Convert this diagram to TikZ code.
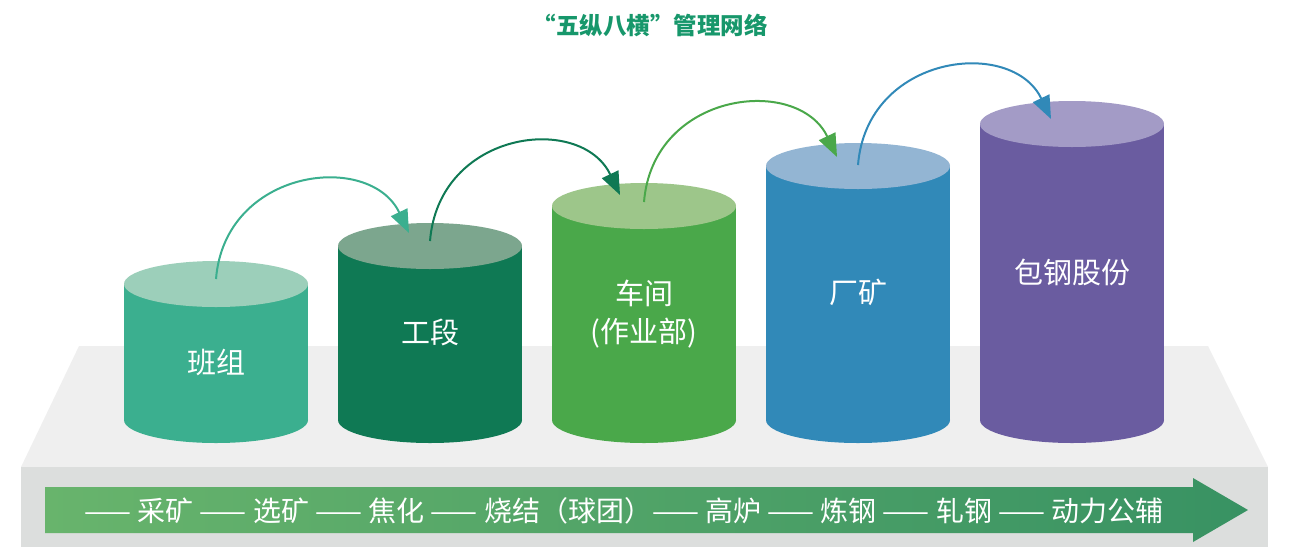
\documentclass[tikz,border=0pt]{standalone}
\usepackage{fontspec}
\setmainfont{Noto Sans CJK SC}
\usetikzlibrary{arrows.meta,calc,shapes.geometric}

\definecolor{titlegreen}{HTML}{17976B}
\definecolor{deckTop}{HTML}{EFEFEF}
\definecolor{deckFront}{HTML}{DCDEDD}
\definecolor{barLeft}{HTML}{68B46C}
\definecolor{barRight}{HTML}{389263}
\definecolor{bodyA}{HTML}{3BAF8F}\definecolor{capA}{HTML}{9CCFBA}
\definecolor{bodyB}{HTML}{0F7954}\definecolor{capB}{HTML}{7CA68E}
\definecolor{bodyC}{HTML}{4AA84A}\definecolor{capC}{HTML}{9DC68A}
\definecolor{bodyD}{HTML}{3189B8}\definecolor{capD}{HTML}{93B5D3}
\definecolor{bodyE}{HTML}{6A5CA0}\definecolor{capE}{HTML}{A39BC6}

\tikzset{
  drumtop/.style={ellipse, inner sep=0pt, minimum width=184pt, minimum height=46pt},
  drumtext/.style={text=white, font=\fontsize{29pt}{38pt}\selectfont, align=center},
  hop/.style={line width=2pt, -{Triangle[length=23pt,width=18pt]}},
}

% body of one drum: centre x, top y, colour
\def\drum(#1,#2)[#3]{%
  \fill[#3] (#1-92,#2) rectangle (#1+92,420);
  \fill[#3] (#1,420) ellipse [x radius=92, y radius=23];
}

\begin{document}
\begin{tikzpicture}[x=1pt, y=-1pt]
			%%%%% START %%%%%
			\useasboundingbox (0,0) rectangle (1306,547);
			
			\node[text=titlegreen, font=\fontsize{23.5pt}{28pt}\selectfont\bfseries] (title) at (650,25) {“五纵八横”管理网络};
			
			\fill[deckTop] (79,346) -- (1208,346) -- (1268,467) -- (21,467) -- cycle;
			
			\drum(216,284)[bodyA]
			\node[drumtop, fill=capA] (top1) at (216,284) {};
			\node[drumtext] (lbl1) at (216,362) {班组};
			
			\drum(430,246)[bodyB]
			\node[drumtop, fill=capB] (top2) at (430,246) {};
			\node[drumtext] (lbl2) at (430,332) {工段};
			
			\drum(644,206)[bodyC]
			\node[drumtop, fill=capC] (top3) at (644,206) {};
			\node[drumtext] (lbl3) at (644,314) {车间\\(作业部)};
			
			\drum(858,166)[bodyD]
			\node[drumtop, fill=capD] (top4) at (858,166) {};
			\node[drumtext] (lbl4) at (858,292) {厂矿};
			
			\drum(1072,124)[bodyE]
			\node[drumtop, fill=capE] (top5) at (1072,124) {};
			\node[drumtext] (lbl5) at (1072,272) {包钢股份};
			
			\draw[hop, color=bodyA] ([yshift=5pt]top1.center) .. controls +(9,-111) and +(-39,-82) .. ($(top2.center)+(-21,-13)$);
			\draw[hop, color=bodyB] ([yshift=5pt]top2.center) .. controls +(9,-111) and +(-39,-82) .. ($(top3.center)+(-24,-11)$);
			\draw[hop, color=bodyC] ([yshift=4pt]top3.center) .. controls +(9,-111) and +(-39,-82) .. ($(top4.center)+(-21,-9)$);
			\draw[hop, color=bodyD] ([yshift=1pt]top4.center) .. controls +(9,-111) and +(-39,-82) .. ($(top5.center)+(-21,-5)$);
			
			\fill[deckFront] (21,467) rectangle (1268,547);
			\shade[left color=barLeft, right color=barRight] (45,487) -- (1193,487) -- (1193,478) -- (1248,510) -- (1193,542) -- (1193,533) -- (45,533) -- cycle;
			\node[text=white, font=\fontsize{28pt}{32pt}\selectfont] (flow) at (624,511) {—— 采矿 —— 选矿 —— 焦化 —— 烧结（球团）—— 高炉 —— 炼钢 —— 轧钢 —— 动力公辅};
			
			%%%%% END %%%%%
		\end{tikzpicture}
\end{document}
